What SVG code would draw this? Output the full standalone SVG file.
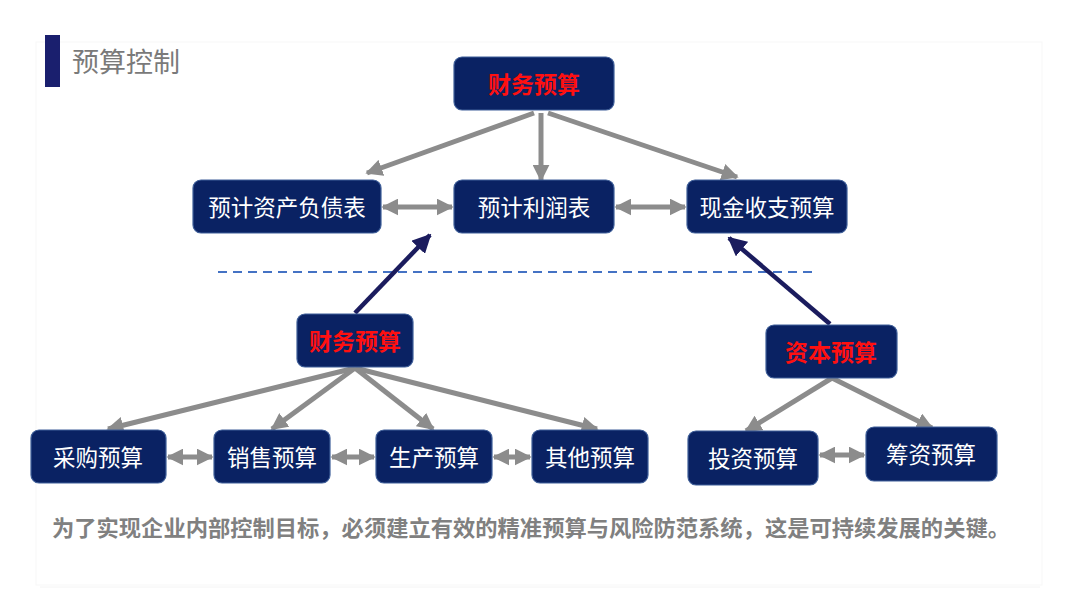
<svg xmlns="http://www.w3.org/2000/svg" width="1080" height="608" viewBox="0 0 1080 608">
<style>
.node rect{fill:#0a2263;stroke:#3f5f99;stroke-width:1.2}
.wt{fill:#ffffff;font-family:"Noto Sans CJK SC","Liberation Sans",sans-serif;font-size:22.5px;text-anchor:middle;dominant-baseline:central}
.rt{fill:#ff1010;font-family:"Noto Sans CJK SC","Liberation Sans",sans-serif;font-size:23px;font-weight:bold;text-anchor:middle;dominant-baseline:central}
.g{stroke:#8c8c8c;stroke-width:5;fill:none}
.n{stroke:#1b1c5e;stroke-width:4.5;fill:none}
</style>
<defs>
<marker id="ag" viewBox="0 0 10 10" refX="9" refY="5" markerWidth="17" markerHeight="17" markerUnits="userSpaceOnUse" orient="auto-start-reverse"><path d="M0,0 L10,5 L0,10 Z" fill="#8c8c8c"/></marker>
<marker id="an" viewBox="0 0 10 10" refX="9" refY="5" markerWidth="19" markerHeight="19" markerUnits="userSpaceOnUse" orient="auto"><path d="M0,0 L10,5 L0,10 Z" fill="#1b1c5e"/></marker>
</defs>
<rect width="1080" height="608" fill="#ffffff"/>
<rect x="36" y="42" width="1006" height="543" fill="none" stroke="#f7f7f7" stroke-width="1"/>
<line x1="40" y1="587" x2="1040" y2="587" stroke="#f4f4f4" stroke-width="1"/>
<rect x="45" y="35" width="15" height="52" fill="#1a1f6e"/>
<text x="72" y="72" font-family="Noto Sans CJK SC,Liberation Sans,sans-serif" font-size="27" fill="#7a7a7a">预算控制</text>
<line x1="218" y1="272" x2="812" y2="272" stroke="#4472c4" stroke-width="2" stroke-dasharray="9,6"/>
<g id="connectors">
<line class="g" x1="534" y1="113" x2="367" y2="173" marker-end="url(#ag)"/>
<line class="g" x1="541" y1="113" x2="541" y2="180" marker-end="url(#ag)"/>
<line class="g" x1="548" y1="113" x2="737" y2="177" marker-end="url(#ag)"/>
<line class="g" x1="383" y1="207" x2="452" y2="207" marker-start="url(#ag)" marker-end="url(#ag)"/>
<line class="g" x1="616" y1="207" x2="685" y2="207" marker-start="url(#ag)" marker-end="url(#ag)"/>
<line class="n" x1="355" y1="313" x2="430" y2="235" marker-end="url(#an)"/>
<line class="n" x1="830" y1="324" x2="729" y2="238" marker-end="url(#an)"/>
<line class="g" x1="355" y1="368" x2="108" y2="429" marker-end="url(#ag)"/>
<line class="g" x1="355" y1="368" x2="272" y2="429" marker-end="url(#ag)"/>
<line class="g" x1="355" y1="368" x2="433" y2="429" marker-end="url(#ag)"/>
<line class="g" x1="355" y1="368" x2="597" y2="429" marker-end="url(#ag)"/>
<line class="g" x1="168" y1="457" x2="212" y2="457" marker-start="url(#ag)" marker-end="url(#ag)"/>
<line class="g" x1="332" y1="457" x2="374" y2="457" marker-start="url(#ag)" marker-end="url(#ag)"/>
<line class="g" x1="494" y1="457" x2="530" y2="457" marker-start="url(#ag)" marker-end="url(#ag)"/>
<line class="g" x1="832" y1="378" x2="746" y2="431" marker-end="url(#ag)"/>
<line class="g" x1="832" y1="378" x2="932" y2="428" marker-end="url(#ag)"/>
<line class="g" x1="820" y1="455" x2="864" y2="455" marker-start="url(#ag)" marker-end="url(#ag)"/>
</g>
<g id="n-top" class="node"><rect x="454" y="57" width="160" height="53" rx="8"/><text class="rt" x="534" y="83">财务预算</text></g>
<g id="n-bs" class="node"><rect x="193" y="180" width="188" height="53" rx="8"/><text class="wt" x="287" y="206">预计资产负债表</text></g>
<g id="n-pl" class="node"><rect x="454" y="180" width="160" height="53" rx="8"/><text class="wt" x="534" y="206">预计利润表</text></g>
<g id="n-cash" class="node"><rect x="687" y="180" width="160" height="53" rx="8"/><text class="wt" x="767" y="206">现金收支预算</text></g>
<g id="n-fin2" class="node"><rect x="297" y="314" width="116" height="53" rx="8"/><text class="rt" x="355" y="340">财务预算</text></g>
<g id="n-cap" class="node"><rect x="766" y="325" width="131" height="53" rx="8"/><text class="rt" x="831" y="351">资本预算</text></g>
<g id="n-buy" class="node"><rect x="31" y="430" width="135" height="53" rx="8"/><text class="wt" x="98" y="456">采购预算</text></g>
<g id="n-sell" class="node"><rect x="214" y="430" width="116" height="53" rx="8"/><text class="wt" x="272" y="456">销售预算</text></g>
<g id="n-prod" class="node"><rect x="376" y="430" width="116" height="53" rx="8"/><text class="wt" x="434" y="456">生产预算</text></g>
<g id="n-other" class="node"><rect x="532" y="430" width="116" height="53" rx="8"/><text class="wt" x="590" y="456">其他预算</text></g>
<g id="n-inv" class="node"><rect x="688" y="431" width="130" height="54" rx="8"/><text class="wt" x="753" y="457">投资预算</text></g>
<g id="n-fund" class="node"><rect x="866" y="427" width="131" height="54" rx="8"/><text class="wt" x="931" y="453">筹资预算</text></g>
<text x="52" y="536" font-family="Noto Sans CJK SC,Liberation Sans,sans-serif" font-size="22" font-weight="bold" fill="#808080" textLength="958" lengthAdjust="spacingAndGlyphs">为了实现企业内部控制目标，必须建立有效的精准预算与风险防范系统，这是可持续发展的关键。</text>
</svg>
